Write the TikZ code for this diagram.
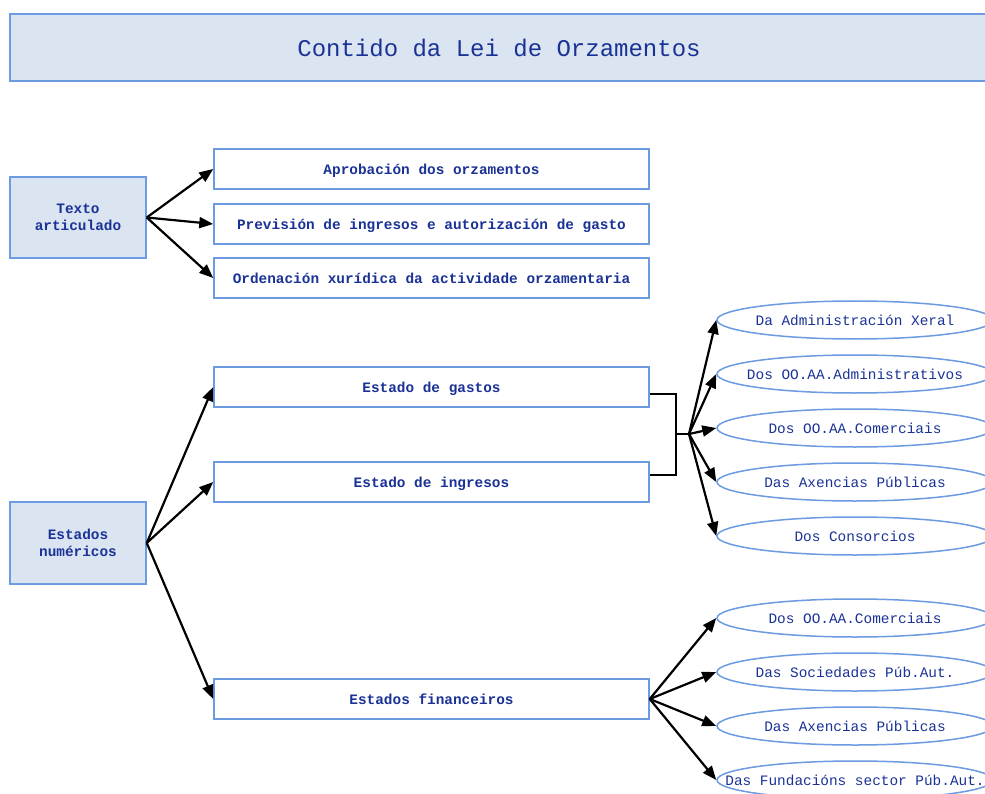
\documentclass[tikz,border=0pt]{standalone}
\usepackage{fontspec}
\setmonofont{Liberation Mono}
\usetikzlibrary{shapes.geometric,arrows.meta}
\definecolor{bord}{RGB}{108,155,226}
\definecolor{fillb}{RGB}{219,229,241}
\definecolor{txt}{RGB}{26,50,150}
\tikzset{
  boxb/.style={draw=bord,line width=1.5pt,fill=fillb,rectangle,inner sep=0pt,text=txt,font=\ttfamily\bfseries\fontsize{14.4}{17}\selectfont,align=center},
  rectw/.style={draw=bord,line width=1.5pt,fill=white,rectangle,inner sep=0pt,minimum width=435pt,minimum height=40pt,text=txt,text height=12pt,text depth=1pt,font=\ttfamily\bfseries\fontsize{14.4}{17}\selectfont},
  ell/.style={draw=bord,line width=1.5pt,fill=white,ellipse,inner sep=0pt,minimum width=276pt,minimum height=38pt},
  etxt/.style={text=txt,font=\ttfamily\fontsize{14.4}{17}\selectfont,inner sep=0pt},
  arr/.style={line width=2.2pt,-{Triangle[length=14pt,width=11pt]}},
  brk/.style={line width=1.6pt}
}
\begin{document}
\begin{tikzpicture}[x=1pt,y=-1pt]
\useasboundingbox[fill=white] (0,0) rectangle (985,794);
\node[boxb,minimum width=978pt,minimum height=67pt,font=\ttfamily\fontsize{24}{28}\selectfont] (title) at (499,47.5) {Contido da Lei de Orzamentos};
\node[boxb,minimum width=136pt,minimum height=81pt] (ta) at (78,217.5) {Texto\\articulado};
\node[rectw] (r1) at (431.5,169) {Aprobación dos orzamentos};
\node[rectw] (r2) at (431.5,224) {Previsión de ingresos e autorización de gasto};
\node[rectw] (r3) at (431.5,278) {Ordenación xurídica da actividade orzamentaria};
\node[boxb,minimum width=136pt,minimum height=82pt] (en) at (78,543) {Estados\\numéricos};
\node[rectw] (g) at (431.5,387) {Estado de gastos};
\node[rectw] (i) at (431.5,482) {Estado de ingresos};
\node[rectw] (f) at (431.5,699) {Estados financeiros};
\foreach \n/\y/\t in {e1/320/Da Administración Xeral,e2/374/Dos OO.AA.Administrativos,e3/428/Dos OO.AA.Comerciais,e4/482/Das Axencias Públicas,e5/536/Dos Consorcios,f1/618/Dos OO.AA.Comerciais,f2/672/Das Sociedades Púb.Aut.,f3/726/Das Axencias Públicas,f4/780/Das Fundacións sector Púb.Aut.}{
  \node[ell] (\n) at (855,\y) {};
  \node[etxt] (\n t) at (\n.center) {\t};
}
\foreach \r in {r1,r2,r3}{\draw[arr] (ta.east) -- (\r.west);}
\foreach \r in {g,i,f}{\draw[arr] (en.east) -- (\r.west);}
\coordinate (hub) at (689,434);
\draw[brk] ([yshift=-7pt]g.east) -| (676,434) -- (hub);
\draw[brk] ([yshift=7pt]i.east) -| (676,434);
\foreach \e in {e1,e2,e3,e4,e5}{\draw[arr] (hub) -- (\e.west);}
\foreach \e in {f1,f2,f3,f4}{\draw[arr] (f.east) -- (\e.west);}
\end{tikzpicture}
\end{document}
